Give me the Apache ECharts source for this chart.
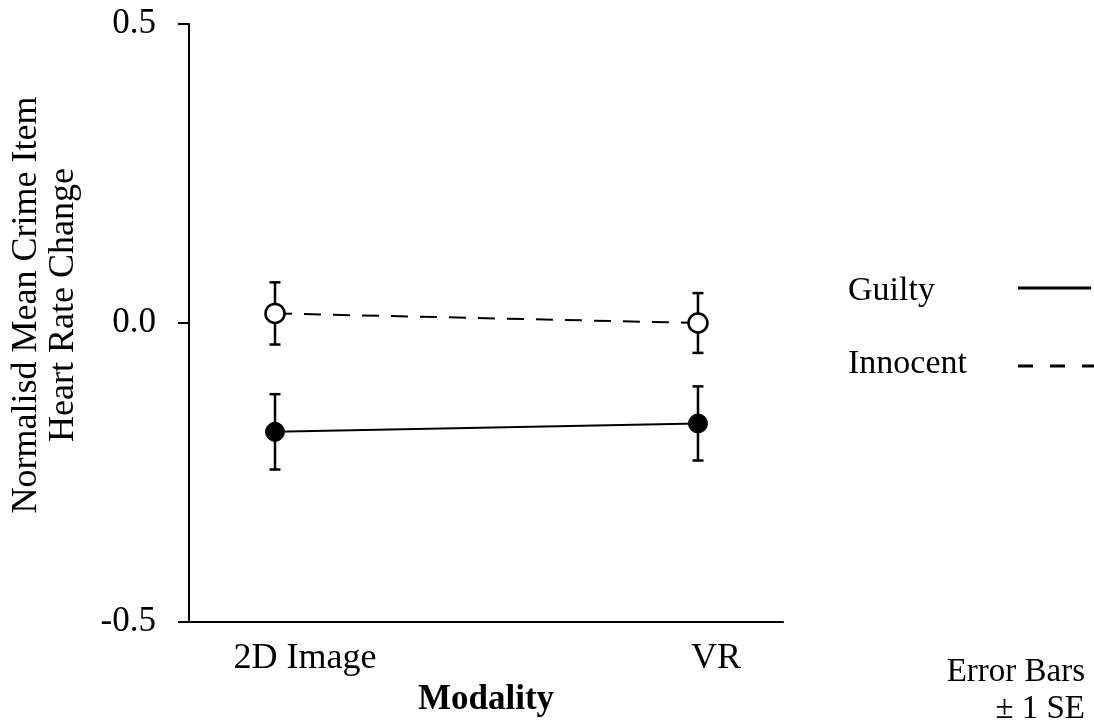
<!DOCTYPE html>
<html>
<head>
<meta charset="utf-8">
<script src="https://cdn.jsdelivr.net/npm/echarts@6/dist/echarts.min.js"></script>
<style>
  html, body { margin: 0; padding: 0; background: #fff; }
  #chart { width: 1094px; height: 725px; }
</style>
</head>
<body>
<div id="chart"></div>
<script>
// categories on the x axis
const modalities = ["2D Image", "VR"];
// group means and standard errors
const guiltyMean = [-0.182, -0.168];
const guiltySE = [0.063, 0.062];
const innocentMean = [0.016, 0.0];
const innocentSE = [0.052, 0.05];
// y tick labels
const yTicks = [-0.5, 0.0, 0.5];

const FONT = '"Liberation Serif", "Times New Roman", serif';

const chart = echarts.init(document.getElementById("chart"));

// points as [categoryIndex, value]
function toPoints(means) {
  return means.map((v, i) => [i, v]);
}
function toBars(means, se) {
  return means.map((v, i) => [i, v - se[i], v + se[i]]);
}

// error bar with caps
function errorBarItem(params, api) {
  const x = api.value(0);
  const lo = api.coord([x, api.value(1)]);
  const hi = api.coord([x, api.value(2)]);
  const cap = 5.5;
  const style = { stroke: "#000", lineWidth: 2.5 };
  return {
    type: "group",
    children: [
      { type: "line", shape: { x1: lo[0], y1: lo[1], x2: hi[0], y2: hi[1] }, style },
      { type: "line", shape: { x1: lo[0] - cap, y1: lo[1], x2: lo[0] + cap, y2: lo[1] }, style },
      { type: "line", shape: { x1: hi[0] - cap, y1: hi[1], x2: hi[0] + cap, y2: hi[1] }, style },
    ],
  };
}

const labelText = { fontFamily: FONT, fontSize: 36, color: "#000" };

const option = {
  backgroundColor: "#fff",
  animation: false,
  textStyle: { fontFamily: FONT, color: "#000" },
  grid: { left: 189, top: 24, right: 311, bottom: 103 },
  xAxis: {
    type: "value",
    min: -0.2033,
    max: 1.201,
    name: "Modality",
    nameLocation: "middle",
    nameGap: 60,
    nameTextStyle: { fontFamily: FONT, fontSize: 35, fontWeight: "bold", color: "#000" },
    axisLine: { show: true, onZero: false, lineStyle: { color: "#000", width: 2 } },
    axisTick: { show: false },
    splitLine: { show: false },
    axisLabel: {
      customValues: [0, 1],
      formatter: (v) => "{c" + Math.round(v) + "|" + modalities[Math.round(v)] + "}",
      margin: 19,
      rich: {
        c0: Object.assign({ padding: [0, 0, 0, 60] }, labelText),
        c1: Object.assign({ padding: [0, 0, 0, 36] }, labelText),
      },
    },
  },
  yAxis: {
    type: "value",
    min: yTicks[0],
    max: yTicks[yTicks.length - 1],
    interval: 0.5,
    name: "Normalisd Mean Crime Item\nHeart Rate Change",
    nameLocation: "middle",
    nameGap: 107,
    nameTextStyle: {
      fontFamily: FONT,
      fontSize: 36,
      color: "#000",
      lineHeight: 37,
      padding: [0, 0, 0, 36],
    },
    axisLine: { show: true, onZero: false, lineStyle: { color: "#000", width: 2 } },
    axisTick: { show: true, inside: false, length: 11, lineStyle: { color: "#000", width: 2 } },
    splitLine: { show: false },
    axisLabel: {
      formatter: (v) => v.toFixed(1),
      fontFamily: FONT,
      fontSize: 35,
      color: "#000",
      margin: 33,
    },
  },
  series: [
    {
      name: "Guilty",
      type: "line",
      data: toPoints(guiltyMean),
      symbol: "circle",
      symbolSize: 19,
      itemStyle: { color: "#000", borderColor: "#000", borderWidth: 1 },
      lineStyle: { color: "#000", width: 2, type: "solid" },
      z: 3,
    },
    {
      name: "Innocent",
      type: "line",
      data: toPoints(innocentMean),
      symbol: "circle",
      symbolSize: 19,
      itemStyle: { color: "#fff", borderColor: "#000", borderWidth: 2.5 },
      lineStyle: { color: "#000", width: 2, type: [17, 12] },
      z: 3,
    },
    {
      name: "Guilty SE",
      type: "custom",
      data: toBars(guiltyMean, guiltySE),
      renderItem: errorBarItem,
      z: 2,
    },
    {
      name: "Innocent SE",
      type: "custom",
      data: toBars(innocentMean, innocentSE),
      renderItem: errorBarItem,
      z: 2,
    },
  ],
  graphic: [
    // legend
    {
      type: "text",
      x: 848,
      y: 274,
      style: { text: "Guilty", font: "34px " + FONT, fill: "#000" },
    },
    {
      type: "line",
      shape: { x1: 1018, y1: 288, x2: 1091, y2: 288 },
      style: { stroke: "#000", lineWidth: 3 },
    },
    {
      type: "text",
      x: 848,
      y: 347,
      style: { text: "Innocent", font: "34px " + FONT, fill: "#000" },
    },
    {
      type: "line",
      shape: { x1: 1018, y1: 366, x2: 1094, y2: 366 },
      style: { stroke: "#000", lineWidth: 3, lineDash: [15, 17] },
    },
    // error bar note
    {
      type: "text",
      x: 1085,
      y: 654,
      style: {
        text: "Error Bars\n± 1 SE",
        font: "33px " + FONT,
        fill: "#000",
        align: "right",
        lineHeight: 37,
      },
    },
  ],
};

chart.setOption(option);
</script>
</body>
</html>
